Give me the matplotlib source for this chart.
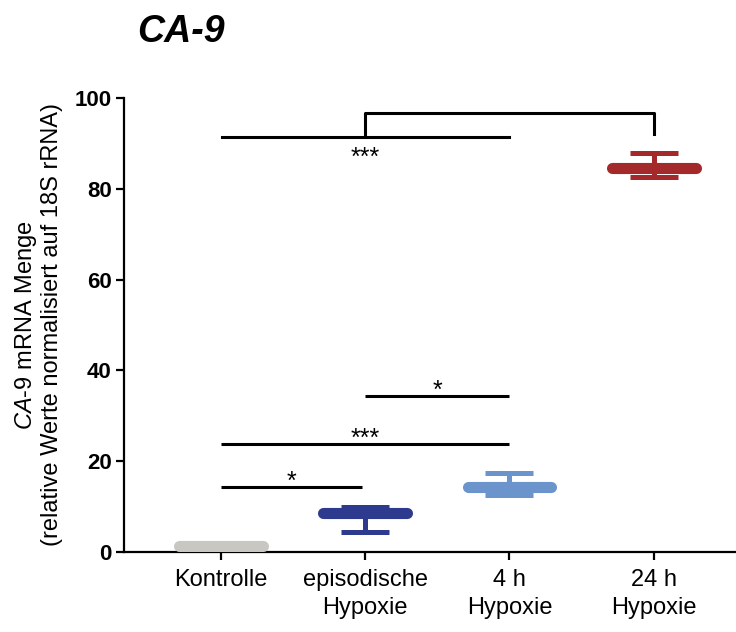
import matplotlib
matplotlib.use("Agg")
import matplotlib.pyplot as plt
import numpy as np

plt.rcParams['font.family'] = ['Liberation Sans', 'DejaVu Sans']
plt.rcParams['mathtext.fontset'] = 'custom'
plt.rcParams['mathtext.rm'] = 'Liberation Sans'
plt.rcParams['mathtext.it'] = 'Liberation Sans:italic'

# data
groups = ['Kontrolle', 'episodische\nHypoxie', '4 h\nHypoxie', '24 h\nHypoxie']
means = [1.4, 8.6, 14.4, 84.5]
upper = [1.7, 9.9, 17.3, 87.8]
lower = [1.1, 4.5, 12.6, 82.5]
colors = ['#c9c7c2', '#2e3a8e', '#6b93cc', '#a3292b']

# significance bars: (x1, x2, y, label, label baseline)
sig_lines = [
    (0.0, 0.98, 14.3, '*', 14.0),
    (0.0, 2.0, 23.8, '***', 23.3),
    (1.0, 2.0, 34.4, '*', 34.0),
]

fig = plt.figure(figsize=(7.36, 6.32), dpi=100)
ax = fig.add_axes([124 / 736, 1 - 552 / 632, 1 - 124 / 736, (552 - 98) / 632])

x = np.arange(len(groups))
for i in range(len(groups)):
    err = [[means[i] - lower[i]], [upper[i] - means[i]]]
    ax.errorbar(x[i], means[i], yerr=err, fmt='none', ecolor=colors[i],
                elinewidth=3.6, capsize=17, capthick=3.6, zorder=3)
    ax.plot([x[i] - 0.29, x[i] + 0.29], [means[i], means[i]], color=colors[i],
            lw=8, solid_capstyle='round', zorder=4)

for x1, x2, y, lab, ly in sig_lines:
    ax.plot([x1, x2], [y, y], color='black', lw=2.2, solid_capstyle='butt')
    ax.text((x1 + x2) / 2, ly, lab, ha='center', va='baseline', fontsize=18)

# top comparison: Kontrolle..4 h vs 24 h
ax.plot([0.01, 2.0], [91.4, 91.4], color='black', lw=2.2)
ax.plot([1.0, 1.0, 3.0, 3.0], [91.4, 96.7, 96.7, 92.1], color='black', lw=2.2)
ax.text(1.0, 85.2, '***', ha='center', va='baseline', fontsize=18)

ax.set_xlim(-0.672, 3.57)
ax.set_ylim(0, 100)
ax.set_yticks([0, 20, 40, 60, 80, 100])
ax.set_xticks(x)
ax.set_xticklabels(groups, fontsize=17, linespacing=1.4)
for t in ax.get_yticklabels():
    t.set_fontsize(16)
    t.set_fontweight('bold')

ax.spines['top'].set_visible(False)
ax.spines['right'].set_visible(False)
ax.spines['left'].set_linewidth(1.6)
ax.spines['bottom'].set_linewidth(1.6)
ax.tick_params(axis='both', direction='out', length=6, width=1.6, pad=3)
ax.tick_params(axis='x', pad=6)

ax.set_ylabel(r'$\it{CA}$-$\it{9}$ mRNA Menge' + '\n(relative Werte normalisiert auf 18S rRNA)',
              fontsize=17, linespacing=1.15, labelpad=8)

fig.text(137 / 736, 1 - 42 / 632, 'CA-9', fontsize=27, fontweight='bold',
         style='italic', ha='left', va='baseline')

fig.savefig('out.png', dpi=100)
